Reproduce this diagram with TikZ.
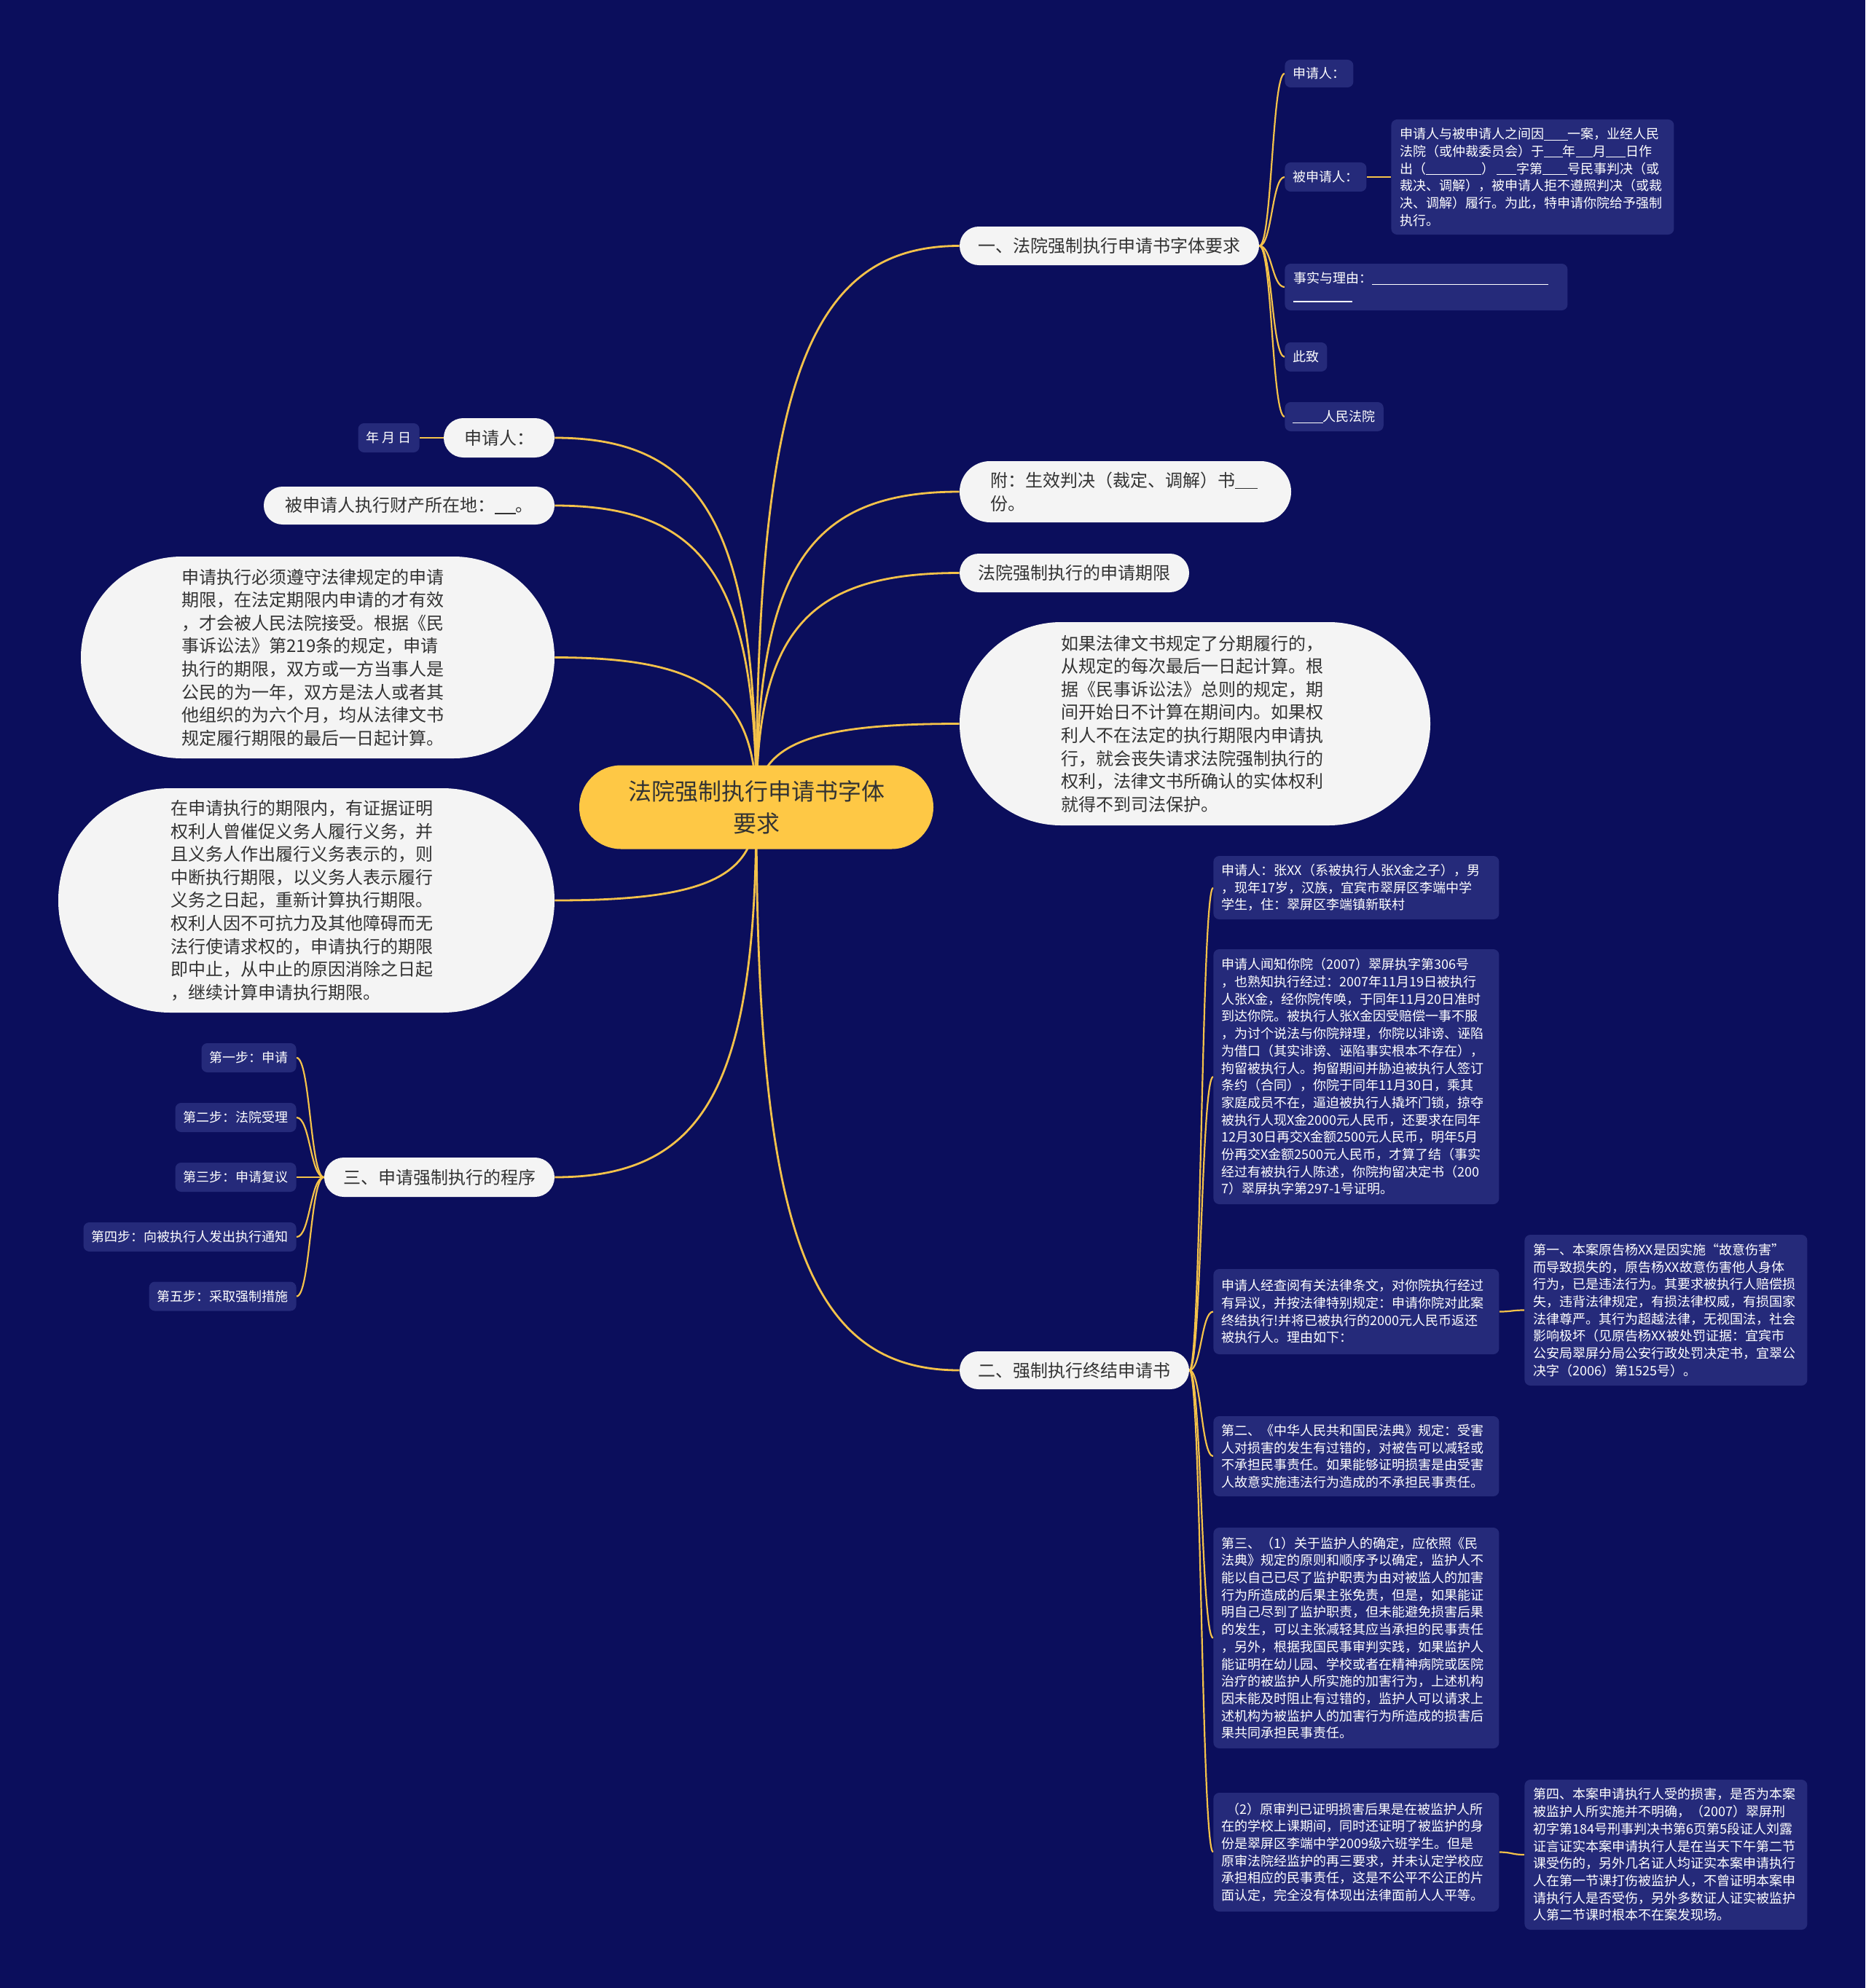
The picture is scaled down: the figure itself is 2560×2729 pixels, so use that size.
\documentclass[tikz,border=0pt]{standalone}
\usepackage{fontspec}
\setmainfont{Noto Sans CJK SC}
\usetikzlibrary{calc}
\definecolor{bgc}{HTML}{0B0E5C}
\definecolor{darkbox}{HTML}{252A7A}
\definecolor{pillc}{HTML}{F4F4F4}
\definecolor{pilltext}{HTML}{333333}
\definecolor{rootc}{HTML}{FEC845}
\definecolor{linkc}{HTML}{F4C24A}
\pgfdeclarelayer{bglayer}
\pgfdeclarelayer{linklayer}
\pgfsetlayers{bglayer,linklayer,main}
\newcommand\ulblank[1]{\rule[-0.12em]{#1em}{0.06em}}
\newcommand\rootlink[2]{\draw[rootlinkstyle] let \p1=(#1),\p2=(#2) in (\p1) .. controls (\x1,{\y1+0.75*(\y2-\y1)}) and ({\x2+0.75*(\x1-\x2)},\y2) .. (\p2);}
\newcommand\slink[2]{\draw[sublinkstyle] let \p1=(#1),\p2=(#2) in (\p1) .. controls ({0.5*(\x1+\x2)},\y1) and ({0.5*(\x1+\x2)},\y2) .. (\p2);}
\tikzset{
  rootnode/.style={fill=rootc, text=pilltext, inner sep=0pt, align=center, font=\fontsize{16}{21.75}\selectfont},
  pillnode/.style={fill=pillc, text=pilltext, inner sep=0pt, font=\fontsize{12}{15.8}\selectfont},
  darknode/.style={fill=darkbox, text=white, inner xsep=5.5pt, inner ysep=0pt, minimum height=20pt, rounded corners=4pt, font=\fontsize{9}{11.85}\selectfont},
  rootlinkstyle/.style={draw=linkc, line width=1.4pt},
  sublinkstyle/.style={draw=linkc, line width=1.1pt},
}
\begin{document}
\begin{tikzpicture}[x=0.5pt,y=-0.5pt]
\begin{pgfonlayer}{bglayer}
\fill[bgc] (0,0) rectangle (2560,2729);
\end{pgfonlayer}
\useasboundingbox (0,0) rectangle (2560,2729);

% root
\node[rootnode, minimum width=243pt, minimum height=57.5pt, rounded corners=28.7pt] (root) at (1038,1108) {法院强制执行申请书字体\\要求};

% right level 1
\node[pillnode, minimum width=205.5pt, minimum height=26.5pt, rounded corners=13.2pt] (n1) at (1522.5,337.5) {一、法院强制执行申请书字体要求};
\node[pillnode, minimum width=227.5pt, minimum height=42pt, rounded corners=20.9pt, text width=185.5pt, align=left] (n2) at (1544.5,675) {附：生效判决（裁定、调解）书\ulblank{1.3}\\份。};
\node[pillnode, minimum width=157.5pt, minimum height=26.5pt, rounded corners=13.2pt] (n3) at (1474.5,786.5) {法院强制执行的申请期限};
\node[pillnode, minimum width=323pt, minimum height=139.5pt, rounded corners=69.7pt, text width=183.5pt, align=left] (n4) at (1640,993.5) {如果法律文书规定了分期履行的，\\从规定的每次最后一日起计算。根\\据《民事诉讼法》总则的规定，期\\间开始日不计算在期间内。如果权\\利人不在法定的执行期限内申请执\\行，就会丧失请求法院强制执行的\\权利，法律文书所确认的实体权利\\就得不到司法保护。};
\node[pillnode, minimum width=157.5pt, minimum height=26pt, rounded corners=12.9pt] (n5) at (1474.5,1881) {二、强制执行终结申请书};

% left level 1
\node[pillnode, minimum width=76pt, minimum height=27pt, rounded corners=13.4pt] (m1) at (685,601) {申请人：};
\node[pillnode, minimum width=199.5pt, minimum height=26pt, rounded corners=12.9pt] (m2) at (561.5,694) {被申请人执行财产所在地：\ulblank{1.2}。};
\node[pillnode, minimum width=325pt, minimum height=138.5pt, rounded corners=69.2pt, text width=186.5pt, align=left] (m3) at (436,902.5) {申请执行必须遵守法律规定的申请\\期限，在法定期限内申请的才有效\\，才会被人民法院接受。根据《民\\事诉讼法》第219条的规定，申请\\执行的期限，双方或一方当事人是\\公民的为一年，双方是法人或者其\\他组织的为六个月，均从法律文书\\规定履行期限的最后一日起计算。};
\node[pillnode, minimum width=340.5pt, minimum height=154pt, rounded corners=76.9pt, text width=186.5pt, align=left] (m4) at (420.5,1236) {在申请执行的期限内，有证据证明\\权利人曾催促义务人履行义务，并\\且义务人作出履行义务表示的，则\\中断执行期限，以义务人表示履行\\义务之日起，重新计算执行期限。\\权利人因不可抗力及其他障碍而无\\法行使请求权的，申请执行的期限\\即中止，从中止的原因消除之日起\\，继续计算申请执行期限。};
\node[pillnode, minimum width=158pt, minimum height=27pt, rounded corners=13.4pt] (m5) at (603,1616) {三、申请强制执行的程序};

% left children
\node[darknode, anchor=east] (a1) at (576,601) {年 月 日};
\node[darknode, anchor=east] (s1) at (407,1452) {第一步：申请};
\node[darknode, anchor=east] (s2) at (407,1534) {第二步：法院受理};
\node[darknode, anchor=east] (s3) at (407,1616) {第三步：申请复议};
\node[darknode, anchor=east] (s4) at (407,1698) {第四步：向被执行人发出执行通知};
\node[darknode, anchor=east] (s5) at (407,1779.5) {第五步：采取强制措施};

% branch 1 children
\node[darknode, anchor=west, minimum height=19pt] (b1) at (1763,101) {申请人：};
\node[darknode, anchor=west] (b2) at (1763,243) {被申请人：};
\node[darknode, anchor=west, text width=182pt, align=left, minimum width=194pt, minimum height=79pt] (b2c) at (1909,243) {申请人与被申请人之间因\ulblank{1.8}一案，业经人民\\法院（或仲裁委员会）于\ulblank{1.4}年\ulblank{1.3}月\ulblank{1.5}日作\\出（\ulblank{4.2}）\,\ulblank{1.5}字第\ulblank{1.9}号民事判决（或\\裁决、调解），被申请人拒不遵照判决（或裁\\决、调解）履行。为此，特申请你院给予强制\\执行。};
\node[darknode, anchor=west, text width=182pt, align=left, minimum width=194pt, minimum height=32pt] (b3) at (1763,394) {事实与理由：\ulblank{13.4}\\\ulblank{4.5}};
\node[darknode, anchor=west] (b4) at (1763,490) {此致};
\node[darknode, anchor=west] (b5) at (1763,572) {\ulblank{2.3}人民法院};

% branch 2 children
\node[darknode, anchor=west, text width=185pt, align=left, minimum width=196pt, minimum height=43.5pt] (c1) at (1665,1218.5) {申请人：张XX（系被执行人张X金之子），男\\，现年17岁，汉族，宜宾市翠屏区李端中学\\学生，住：翠屏区李端镇新联村};
\node[darknode, anchor=west, text width=185pt, align=left, minimum width=196pt, minimum height=175pt] (c2) at (1665,1478) {申请人闻知你院（2007）翠屏执字第306号\\，也熟知执行经过：2007年11月19日被执行\\人张X金，经你院传唤，于同年11月20日准时\\到达你院。被执行人张X金因受赔偿一事不服\\，为讨个说法与你院辩理，你院以诽谤、诬陷\\为借口（其实诽谤、诬陷事实根本不存在），\\拘留被执行人。拘留期间并胁迫被执行人签订\\条约（合同），你院于同年11月30日，乘其\\家庭成员不在，逼迫被执行人撬坏门锁，掠夺\\被执行人现X金2000元人民币，还要求在同年\\12月30日再交X金额2500元人民币，明年5月\\份再交X金额2500元人民币，才算了结（事实\\经过有被执行人陈述，你院拘留决定书（200\\7）翠屏执字第297-1号证明。};
\node[darknode, anchor=west, text width=185pt, align=left, minimum width=196pt, minimum height=58.5pt] (c3) at (1665,1800.5) {申请人经查阅有关法律条文，对你院执行经过\\有异议，并按法律特别规定：申请你院对此案\\终结执行!并将已被执行的2000元人民币返还\\被执行人。理由如下：};
\node[darknode, anchor=west, text width=182pt, align=left, minimum width=194pt, minimum height=103.5pt] (c3c) at (2092,1798.5) {第一、本案原告杨XX是因实施“故意伤害”\\而导致损失的，原告杨XX故意伤害他人身体\\行为，已是违法行为。其要求被执行人赔偿损\\失，违背法律规定，有损法律权威，有损国家\\法律尊严。其行为超越法律，无视国法，社会\\影响极坏（见原告杨XX被处罚证据：宜宾市\\公安局翠屏分局公安行政处罚决定书，宜翠公\\决字（2006）第1525号）。};
\node[darknode, anchor=west, text width=185pt, align=left, minimum width=196pt, minimum height=55pt] (c4) at (1665,1999) {第二、《中华人民共和国民法典》规定：受害\\人对损害的发生有过错的，对被告可以减轻或\\不承担民事责任。如果能够证明损害是由受害\\人故意实施违法行为造成的不承担民事责任。};
\node[darknode, anchor=west, text width=185pt, align=left, minimum width=196pt, minimum height=151.5pt] (c5) at (1665,2248.5) {第三、（1）关于监护人的确定，应依照《民\\法典》规定的原则和顺序予以确定，监护人不\\能以自己已尽了监护职责为由对被监人的加害\\行为所造成的后果主张免责，但是，如果能证\\明自己尽到了监护职责，但未能避免损害后果\\的发生，可以主张减轻其应当承担的民事责任\\，另外，根据我国民事审判实践，如果监护人\\能证明在幼儿园、学校或者在精神病院或医院\\治疗的被监护人所实施的加害行为，上述机构\\因未能及时阻止有过错的，监护人可以请求上\\述机构为被监护人的加害行为所造成的损害后\\果共同承担民事责任。};
\node[darknode, anchor=west, text width=185pt, align=left, minimum width=196pt, minimum height=81.5pt] (c6) at (1665,2542.5) {\hspace*{0.4em}（2）原审判已证明损害后果是在被监护人所\\在的学校上课期间，同时还证明了被监护的身\\份是翠屏区李端中学2009级六班学生。但是\\原审法院经监护的再三要求，并未认定学校应\\承担相应的民事责任，这是不公平不公正的片\\面认定，完全没有体现出法律面前人人平等。};
\node[darknode, anchor=west, text width=182pt, align=left, minimum width=194pt, minimum height=103pt] (c6c) at (2092,2546) {第四、本案申请执行人受的损害，是否为本案\\被监护人所实施并不明确，（2007）翠屏刑\\初字第184号刑事判决书第6页第5段证人刘露\\证言证实本案申请执行人是在当天下午第二节\\课受伤的，另外几名证人均证实本案申请执行\\人在第一节课打伤被监护人，不曾证明本案申\\请执行人是否受伤，另外多数证人证实被监护\\人第二节课时根本不在案发现场。};

\begin{pgfonlayer}{linklayer}
\rootlink{root.center}{n1.west}
\rootlink{root.center}{n2.west}
\rootlink{root.center}{n3.west}
\rootlink{root.center}{n4.west}
\rootlink{root.center}{n5.west}
\rootlink{root.center}{m1.east}
\rootlink{root.center}{m2.east}
\rootlink{root.center}{m3.east}
\rootlink{root.center}{m4.east}
\rootlink{root.center}{m5.east}
\slink{m1.west}{a1.east}
\slink{m5.west}{s1.east}
\slink{m5.west}{s2.east}
\slink{m5.west}{s3.east}
\slink{m5.west}{s4.east}
\slink{m5.west}{s5.east}
\slink{n1.east}{b1.west}
\slink{n1.east}{b2.west}
\slink{n1.east}{b3.west}
\slink{n1.east}{b4.west}
\slink{n1.east}{b5.west}
\slink{b2.east}{b2c.west}
\slink{n5.east}{c1.west}
\slink{n5.east}{c2.west}
\slink{n5.east}{c3.west}
\slink{n5.east}{c4.west}
\slink{n5.east}{c5.west}
\slink{n5.east}{c6.west}
\slink{c3.east}{c3c.west}
\slink{c6.east}{c6c.west}
\end{pgfonlayer}
\end{tikzpicture}
\end{document}
